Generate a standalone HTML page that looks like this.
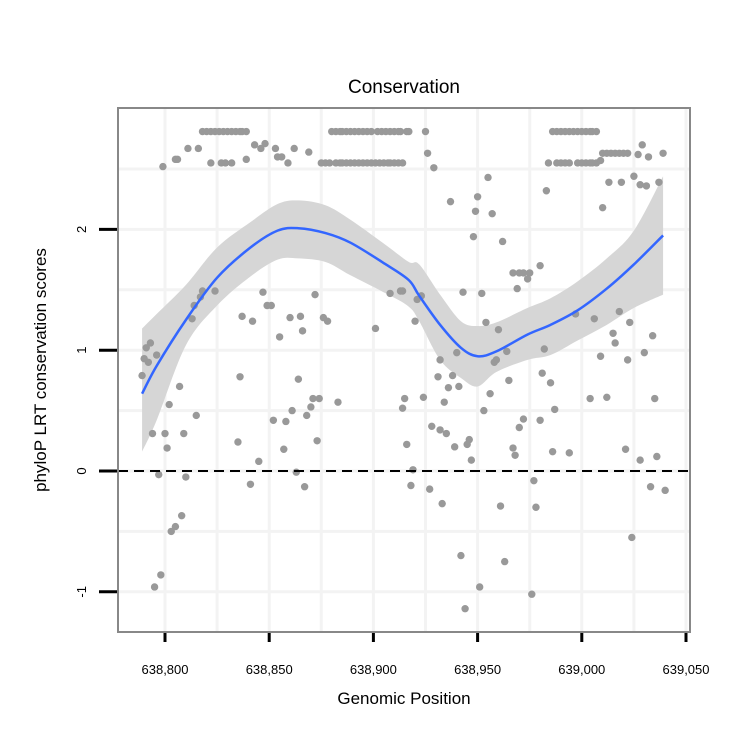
<!DOCTYPE html>
<html><head><meta charset="utf-8"><style>
body{margin:0;background:#fff}
svg{display:block;font-family:"Liberation Sans",Arial,sans-serif}
</style></head><body>
<svg id="chart" width="750" height="750" viewBox="0 0 750 750">
<rect width="750" height="750" fill="#fff"/>
<text x="404" y="93" font-size="19" text-anchor="middle">Conservation</text>
<g id="grid"></g>
<g id="band"></g>
<g id="pts"></g>
<line x1="118" y1="471" x2="690" y2="471" stroke="#000" stroke-width="2" stroke-dasharray="10,6"/>
<g id="fit"></g>
<rect x="118" y="108" width="572" height="524" fill="none" stroke="#888" stroke-width="2"/>
<g id="axes"></g>
<text x="404" y="704" font-size="17" text-anchor="middle">Genomic Position</text>
<text transform="translate(46,370) rotate(-90)" font-size="17" text-anchor="middle">phyloP LRT conservation scores</text>
</svg>
<script>
const xTicks=[638800,638850,638900,638950,639000,639050];
const xTickLabels=["638,800","638,850","638,900","638,950","639,000","639,050"];
const yTicks=[-1,0,1,2];
const yTickLabels=["-1","0","1","2"];
const posValues=[
638818,638820,638822,638824,638826,638828,638830,638832,638834,638836,638837,638839,
638880,638882,638884,638885,638887,638889,638891,638893,638895,638897,638899,
638902,638904,638906,638908,638910,638912,638913,638916,638917,638925,
638986,638988,638990,638992,638994,638996,638998,639000,639002,639004,639005,639007,
638811,638816,638843,638848,638853,638846,638862,638869,638805,638806,638799,638822,638827,638829,638832,638839,638854,638856,638859,
638875,638877,638879,638882,638884,638885,638887,638889,638891,638893,638895,638897,638899,638901,638903,638905,638907,638908,638910,638912,638914,
638926,638929,639010,639012,639014,639016,639018,639020,639022,639027,639029,639032,639039,638984,638988,638990,638992,638994,638998,639000,639002,639004,639005,639007,639009,
638955,638937,638950,638949,638957,638948,638962,638983,639013,639019,639025,639028,639031,639037,639010,
638980,638967,638970,638972,638975,638974,638969,638943,638952,638914,638921,638923,638920,638954,638960,
638997,639006,639018,639023,639015,639016,639034,638982,638964,638959,638940,638932,639009,639022,639030,
638818,638824,638847,638872,638908,638913,638817,638814,638849,638851,638813,638837,638842,638860,638865,638876,638878,638866,638901,638855,638793,638791,638796,638790,638792,
638789,638807,638802,638815,638794,638800,638809,638801,638797,638810,638808,638805,638803,638798,638795,
638836,638864,638871,638874,638870,638883,638861,638852,638858,638868,638835,638857,638873,638845,638863,638841,638867,638915,638914,638916,
638958,638981,638985,638965,638931,638938,638936,638941,638956,638924,638934,638953,638987,639004,639012,639035,
638928,638932,638935,638939,638945,638946,638947,638972,638970,638980,638967,638968,638986,638994,639021,639028,639036,
638919,638918,638927,638933,638977,638961,638978,639033,639040,639024,638942,638963,638951,638976,638944];
const scoreValues=[
2.81,2.81,2.81,2.81,2.81,2.81,2.81,2.81,2.81,2.81,2.81,2.81,
2.81,2.81,2.81,2.81,2.81,2.81,2.81,2.81,2.81,2.81,2.81,
2.81,2.81,2.81,2.81,2.81,2.81,2.81,2.81,2.81,2.81,
2.81,2.81,2.81,2.81,2.81,2.81,2.81,2.81,2.81,2.81,2.81,2.81,
2.67,2.67,2.70,2.71,2.67,2.67,2.67,2.64,2.58,2.58,2.52,2.55,2.55,2.55,2.55,2.58,2.60,2.60,2.55,
2.55,2.55,2.55,2.55,2.55,2.55,2.55,2.55,2.55,2.55,2.55,2.55,2.55,2.55,2.55,2.55,2.55,2.55,2.55,2.55,2.55,
2.63,2.51,2.63,2.63,2.63,2.63,2.63,2.63,2.63,2.62,2.70,2.60,2.63,2.55,2.55,2.55,2.55,2.55,2.55,2.55,2.55,2.55,2.55,2.55,2.57,
2.43,2.23,2.27,2.15,2.13,1.94,1.90,2.32,2.39,2.39,2.44,2.37,2.36,2.39,2.18,
1.70,1.64,1.64,1.64,1.64,1.59,1.51,1.48,1.47,1.49,1.42,1.45,1.24,1.23,1.17,
1.30,1.26,1.32,1.23,1.14,1.06,1.12,1.01,0.99,0.92,0.98,0.92,0.95,0.92,0.98,
1.49,1.49,1.48,1.46,1.47,1.49,1.44,1.37,1.37,1.37,1.26,1.28,1.24,1.27,1.28,1.27,1.24,1.16,1.18,1.11,1.06,1.02,0.96,0.93,0.90,
0.79,0.70,0.55,0.46,0.31,0.31,0.31,0.19,-0.03,-0.05,-0.37,-0.46,-0.50,-0.86,-0.96,
0.78,0.76,0.60,0.60,0.53,0.57,0.50,0.42,0.41,0.46,0.24,0.18,0.25,0.08,-0.01,-0.11,-0.13,0.60,0.52,0.22,
0.90,0.81,0.73,0.75,0.78,0.79,0.69,0.70,0.64,0.61,0.57,0.50,0.51,0.60,0.61,0.60,
0.37,0.34,0.31,0.20,0.22,0.26,0.09,0.43,0.36,0.42,0.19,0.13,0.16,0.15,0.18,0.09,0.12,
0.01,-0.12,-0.15,-0.27,-0.08,-0.29,-0.30,-0.13,-0.16,-0.55,-0.70,-0.75,-0.96,-1.02,-1.14];
const fitPos=[638789,638796,638810,638825,638841,638854,638864,638877,638889,638906,638917,638922,638932,638942,638950,638959,638974,638985,638998,639012,639025,639039];
const fitScore=[0.64,0.87,1.25,1.60,1.85,1.99,2.01,1.97,1.89,1.71,1.58,1.45,1.21,1.02,0.95,0.99,1.13,1.21,1.33,1.51,1.71,1.95];
const upperScore=[1.18,1.30,1.54,1.85,2.06,2.21,2.24,2.20,2.08,1.87,1.73,1.71,1.46,1.24,1.20,1.23,1.35,1.43,1.57,1.76,1.99,2.44];
const lowerScore=[0.16,0.42,1.04,1.37,1.61,1.75,1.76,1.73,1.62,1.47,1.36,1.24,0.92,0.77,0.70,0.82,0.92,0.96,1.08,1.21,1.35,1.46];

const NS='http://www.w3.org/2000/svg';
function xs(p){return 165+(p-638800)*104.2/50;}
function ys(s){return 471-s*120.8;}
function mk(tag,attrs,parent){const e=document.createElementNS(NS,tag);for(const k in attrs)e.setAttribute(k,attrs[k]);parent.appendChild(e);return e;}
function smooth(pts){let d='M'+pts[0][0]+','+pts[0][1];for(let i=0;i<pts.length-1;i++){const p0=pts[i-1]||pts[i],p1=pts[i],p2=pts[i+1],p3=pts[i+2]||p2;
d+='C'+(p1[0]+(p2[0]-p0[0])/6)+','+(p1[1]+(p2[1]-p0[1])/6)+' '+(p2[0]-(p3[0]-p1[0])/6)+','+(p2[1]-(p3[1]-p1[1])/6)+' '+p2[0]+','+p2[1];}return d;}

const grid=document.getElementById('grid');
const gx=[];for(let i=0;i<xTicks.length;i++){gx.push(xTicks[i]);if(i<xTicks.length-1)gx.push((xTicks[i]+xTicks[i+1])/2);}
gx.forEach(v=>{const X=xs(v);if(X>119&&X<689){const l=mk('line',{x1:X,x2:X,y1:109,y2:631,stroke:'#f3f3f3','stroke-width':3},grid);

}});
for(let s=-1;s<=2.5;s+=0.5){const Y=ys(s);const l=mk('line',{x1:119,x2:689,y1:Y,y2:Y,stroke:'#f3f3f3','stroke-width':3},grid);

}

const up=fitPos.map((p,i)=>[xs(p),ys(upperScore[i])]);
const lo=fitPos.map((p,i)=>[xs(p),ys(lowerScore[i])]).reverse();
const bp=mk('path',{d:smooth(up)+'L'+smooth(lo).slice(1)+'Z',fill:'#d6d6d6'},document.getElementById('band'));



const pts=document.getElementById('pts');
posValues.forEach((p,i)=>{const c=mk('circle',{cx:xs(p),cy:ys(scoreValues[i]),r:3.7,fill:'#999'},pts);

});

const fl=mk('path',{d:smooth(fitPos.map((p,i)=>[xs(p),ys(fitScore[i])])),fill:'none',stroke:'#3366ff','stroke-width':2.5,'stroke-linejoin':'round'},document.getElementById('fit'));



const axes=document.getElementById('axes');
xTicks.forEach((v,i)=>{const X=xs(v);
const t=mk('line',{x1:X,x2:X,y1:633,y2:642,stroke:'#000','stroke-width':3},axes);


const tx=mk('text',{x:X,y:674,'font-size':13,'text-anchor':'middle'},axes);tx.textContent=xTickLabels[i];

});
yTicks.forEach((v,i)=>{const Y=ys(v);
const t=mk('line',{x1:99,x2:117,y1:Y,y2:Y,stroke:'#000','stroke-width':3},axes);


const tx=mk('text',{transform:'translate(86,'+Y+') rotate(-90)','font-size':13,'text-anchor':'middle'},axes);tx.textContent=yTickLabels[i];

});
</script>
</body></html>
